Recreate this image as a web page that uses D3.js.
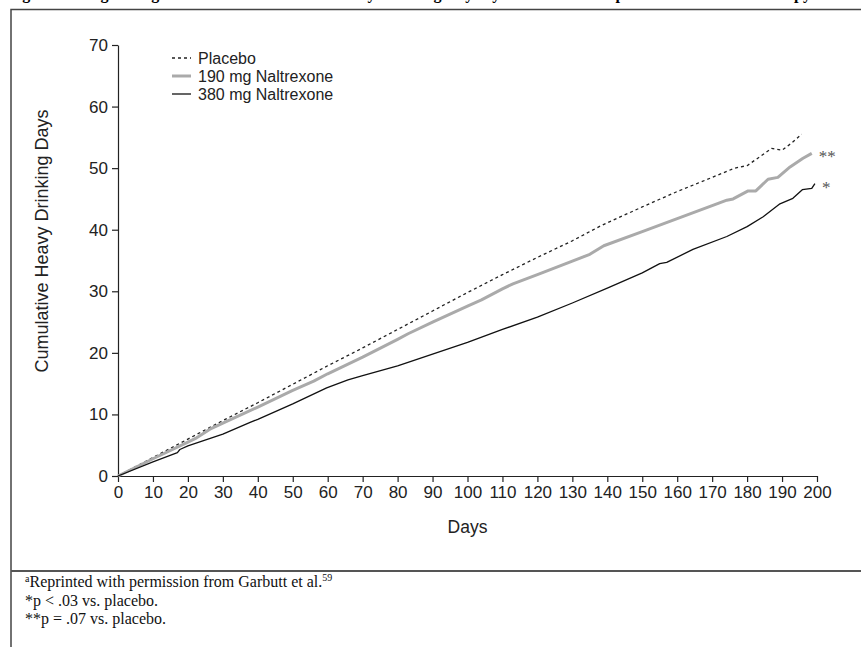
<!DOCTYPE html>
<html>
<head>
<meta charset="utf-8">
<script src="https://cdn.jsdelivr.net/npm/d3@7"></script>
<style>
  body { margin: 0; background: #fff; }
  svg { display: block; }
</style>
</head>
<body>
<div id="wrapper"></div>
<script>
// series: [day, cumulative heavy drinking days]
const placeboPoints = [
  [0, 0], [10, 3.0], [20, 6.0], [30, 9.0], [40, 11.9], [50, 14.9], [60, 17.9],
  [70, 20.8], [80, 23.8], [90, 26.8], [100, 29.8], [110, 32.7], [120, 35.5],
  [130, 38.2], [138, 40.6], [150, 43.7], [160, 46.2], [170, 48.5], [176, 49.9],
  [178, 50.2], [180, 50.4], [184, 52.0], [187, 53.2], [190, 52.9], [193, 54.2], [195.6, 55.5]
]
const naltrexone190Points = [
  [0, 0], [10, 2.8], [20, 5.5], [22.5, 6.2], [26.3, 7.6], [30, 8.6], [40, 11.2], [50, 13.9],
  [56, 15.4], [60, 16.6], [70, 19.3], [80, 22.2], [83, 23.1], [90, 25.0], [100, 27.6],
  [104, 28.6], [110, 30.4], [113, 31.2], [120, 32.7], [130, 34.9], [135, 36.0],
  [139, 37.4], [150, 39.7], [160, 41.8], [170, 43.9], [174.2, 44.8], [176, 45.0],
  [180.3, 46.3], [182.5, 46.3], [186, 48.2], [188.8, 48.5], [192.3, 50.2], [196, 51.6], [198.5, 52.4]
]
const naltrexone380Points = [
  [0, 0], [10, 2.3], [17, 3.8], [17.7, 4.3], [20, 4.9], [30, 6.8], [37.8, 8.7], [40, 9.2],
  [50, 11.7], [59.7, 14.3], [65.8, 15.6], [70, 16.3], [80, 17.9], [90, 19.8],
  [100, 21.7], [110, 23.8], [120, 25.8], [130, 28.1], [140, 30.5], [150, 33.0],
  [155, 34.5], [157, 34.7], [164.5, 36.8], [174.2, 38.9], [180, 40.5], [184.6, 42.1],
  [189.4, 44.2], [193.1, 45.1], [195.8, 46.5], [198.5, 46.7], [199.4, 47.5]
]

const seriesNames = ["Placebo", "190 mg Naltrexone", "380 mg Naltrexone"]
const seriesMarks = ["", "**", "*"]
const xTicks = d3.range(0, 201, 10)
const yTicks = d3.range(0, 71, 10)

const titleText = "Figure 2. Long-Acting Naltrexone: Cumulative Heavy Drinking Days by Treatment Group Over 6 Months of Therapy"
const footnotes = [
  ["a", "Reprinted with permission from Garbutt et al.", "59"],
  ["", "*p < .03 vs. placebo.", ""],
  ["", "**p = .07 vs. placebo.", ""],
]

function drawChart() {

  let dimensions = {
    width: 861,
    height: 647,
    margin: {
      top: 45,
      right: 44,
      bottom: 171,
      left: 118,
    },
  }
  dimensions.boundedWidth = dimensions.width - dimensions.margin.left - dimensions.margin.right
  dimensions.boundedHeight = dimensions.height - dimensions.margin.top - dimensions.margin.bottom

  const wrapper = d3.select("#wrapper")
    .append("svg")
      .attr("width", dimensions.width)
      .attr("height", dimensions.height)

  // title (cut off at top of the page, as in the source) and frame
  wrapper.append("text")
      .attr("x", 8)
      .attr("y", -1)
      .style("font-family", "'Liberation Serif', 'Times New Roman', serif")
      .style("font-weight", "700")
      .style("font-size", "16px")
      .text(titleText)

  wrapper.append("path")
      .attr("d", `M 870 9.5 H 11 V 660`)
      .attr("fill", "none")
      .attr("stroke", "#444")
      .attr("stroke-width", 1.5)

  wrapper.append("line")
      .attr("x1", 11).attr("x2", 870)
      .attr("y1", 571).attr("y2", 571)
      .attr("stroke", "#555")
      .attr("stroke-width", 2)

  const bounds = wrapper.append("g")
      .attr("transform", `translate(${dimensions.margin.left}, ${dimensions.margin.top})`)

  // accessors and scales
  const xAccessor = d => d[0]
  const yAccessor = d => d[1]

  const xScale = d3.scaleLinear()
    .domain([0, 200])
    .range([0, dimensions.boundedWidth])

  const yScale = d3.scaleLinear()
    .domain([0, 70])
    .range([dimensions.boundedHeight, 0])

  // axes
  const axisFont = "'Liberation Sans', Arial, Helvetica, sans-serif"

  const xAxis = bounds.append("g")
      .attr("transform", `translate(0, ${dimensions.boundedHeight})`)
      .call(d3.axisBottom(xScale).tickValues(xTicks).tickSize(6).tickSizeOuter(0).tickPadding(4))
  xAxis.selectAll("text")
      .style("font-family", axisFont)
      .style("font-size", "17px")
      .attr("fill", "#222")

  const yAxis = bounds.append("g")
      .call(d3.axisLeft(yScale).tickValues(yTicks).tickSize(6).tickSizeOuter(0).tickPadding(4))
  yAxis.selectAll("text")
      .style("font-family", axisFont)
      .style("font-size", "17px")
      .attr("fill", "#222")

  bounds.selectAll(".domain, .tick line")
      .attr("stroke", "#222")
      .attr("stroke-width", 1.2)

  bounds.append("text")
      .attr("x", xScale(100))
      .attr("y", dimensions.boundedHeight + 57)
      .attr("text-anchor", "middle")
      .style("font-family", axisFont)
      .style("font-size", "17.5px")
      .attr("fill", "#222")
      .text("Days")

  bounds.append("text")
      .attr("transform", `translate(${48 - dimensions.margin.left}, ${241 - dimensions.margin.top}) rotate(-90)`)
      .attr("text-anchor", "middle")
      .style("font-family", axisFont)
      .style("font-size", "18px")
      .attr("fill", "#222")
      .text("Cumulative Heavy Drinking Days")

  // lines
  const lineStyles = [
    { stroke: "#222", width: 1.3, dash: "3,3" },
    { stroke: "#aaa", width: 3, dash: null },
    { stroke: "#111", width: 1.3, dash: null },
  ]
  const allSeries = [placeboPoints, naltrexone190Points, naltrexone380Points]

  const lineGenerator = d3.line()
    .x(d => xScale(xAccessor(d)))
    .y(d => yScale(yAccessor(d)))

  bounds.selectAll(".series")
      .data(allSeries)
    .enter()
      .append("path")
        .attr("class", "series")
        .attr("d", lineGenerator)
        .attr("fill", "none")
        .attr("stroke", (d, i) => lineStyles[i].stroke)
        .attr("stroke-width", (d, i) => lineStyles[i].width)
        .attr("stroke-dasharray", (d, i) => lineStyles[i].dash)
        .attr("stroke-linejoin", "round")

  // significance marks at line ends
  bounds.selectAll(".mark")
      .data(allSeries)
    .enter()
      .append("text")
        .attr("class", "mark")
        .attr("x", d => xScale(xAccessor(d[d.length - 1])) + 7)
        .attr("y", (d, i) => yScale(yAccessor(d[d.length - 1])) + 9)
        .style("font-family", "'Liberation Serif', 'Times New Roman', serif")
        .style("font-size", "17px")
        .attr("fill", "#555")
        .text((d, i) => seriesMarks[i])

  // legend
  const legend = bounds.append("g")
      .attr("transform", `translate(${172 - dimensions.margin.left}, ${58 - dimensions.margin.top})`)

  const legendItems = legend.selectAll(".legend-item")
      .data(seriesNames)
    .enter()
      .append("g")
        .attr("class", "legend-item")
        .attr("transform", (d, i) => `translate(0, ${i * 18})`)

  legendItems.append("line")
      .attr("x1", 0).attr("x2", 19)
      .attr("y1", 0).attr("y2", 0)
      .attr("stroke", (d, i) => lineStyles[i].stroke)
      .attr("stroke-width", (d, i) => lineStyles[i].width)
      .attr("stroke-dasharray", (d, i) => lineStyles[i].dash)

  legendItems.append("text")
      .attr("x", 26)
      .attr("y", 5.5)
      .style("font-family", axisFont)
      .style("font-size", "16px")
      .attr("fill", "#222")
      .text(d => d)

  // footnotes
  const notes = wrapper.selectAll(".footnote")
      .data(footnotes)
    .enter()
      .append("text")
        .attr("class", "footnote")
        .attr("x", 25)
        .attr("y", (d, i) => 587 + i * 18.7)
        .style("font-family", "'Liberation Serif', 'Times New Roman', serif")
        .style("font-size", "16px")
        .attr("fill", "#111")

  notes.append("tspan")
      .attr("dy", -5)
      .style("font-size", "10px")
      .text(d => d[0])
  notes.append("tspan")
      .attr("dy", d => d[0] ? 5 : 0)
      .text(d => d[1])
  notes.append("tspan")
      .attr("dy", -6)
      .style("font-size", "10px")
      .text(d => d[2])
}

drawChart()
</script>
</body>
</html>
